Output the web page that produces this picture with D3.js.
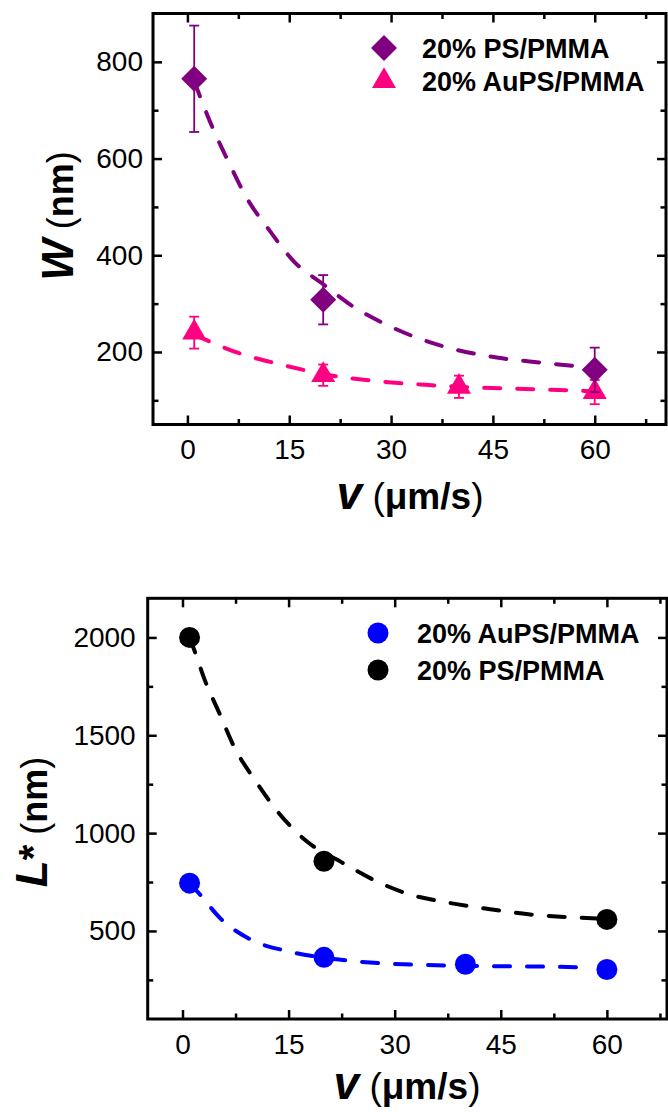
<!DOCTYPE html>
<html>
<head>
<meta charset="utf-8">
<script src="https://cdn.jsdelivr.net/npm/d3@7"></script>
<style>
    body { margin: 0; background: #fff; }
    svg { display: block; font-family: "Liberation Sans", Arial, sans-serif; }
    .axis text { font-size: 28px; fill: #000; font-family: "Liberation Sans", Arial, sans-serif; }
    .axis line { stroke: #000; stroke-width: 2.5; }
    .axis .domain { display: none; }
    .fit { fill: none; stroke-width: 4; stroke-dasharray: 16, 17; stroke-linecap: round; }
    .legend text { font-size: 27px; font-weight: bold; }
</style>
</head>
<body>
<svg id="chart" width="668" height="1112"></svg>
<script>
// ---- top panel: W (nm) vs v (um/s) ----
var speedPS = [1, 20, 60];
var widthPS = [765, 308, 163];
var widthPSErr = [110, 51, 46];

var speedAuPS = [1, 20, 40, 60];
var widthAuPS = [240, 152, 128, 117];
var widthAuPSErr = [33, 22, 23, 25];

// dashed fit curves
var fitSpeedWPS = [1, 3.7, 6.2, 8.8, 11.9, 15.7, 20.1, 24.4, 28.8, 33.9, 39.5, 45.8, 52.1, 57];
var fitWidthPS = [760, 664, 589, 517, 455, 387, 339, 294, 260, 229, 205, 188, 178, 171];
var fitSpeedWAuPS = [1, 7.5, 13.8, 20.1, 27.6, 35.1, 43.3, 50.8, 59.6];
var fitWidthAuPS = [236, 198, 174, 154, 140, 132, 126, 123, 119];

// ---- bottom panel: L* (nm) vs v (um/s) ----
var lengthAuPS = [744, 365, 330, 303];
var lengthPS = [2000, 856, 559];

var fitSpeedLPS = [1, 1.6, 3.1, 5.2, 7.3, 10.3, 13.4, 17.6, 22.4, 27.2, 32, 37.5, 43.5, 48.9, 54.3, 58.6];
var fitLengthPS = [2000, 1942, 1787, 1614, 1441, 1268, 1112, 957, 853, 758, 688, 645, 611, 585, 571, 564];
var fitSpeedLAuPS = [1, 2.2, 5.5, 9.7, 15.2, 21.8, 28.4, 34.4, 43.5, 52.5, 58];
var fitLengthAuPS = [744, 697, 559, 455, 394, 355, 334, 326, 320, 317, 313];

// ticks
var xTicks = [0, 15, 30, 45, 60];
var xMinorTicks = [7.5, 22.5, 37.5, 52.5, 67.5];
var wTicks = [200, 400, 600, 800];
var wMinorTicks = [100, 300, 500, 700];
var lTicks = [500, 1000, 1500, 2000];
var lMinorTicks = [250, 750, 1250, 1750];

var purple = "#800080", pink = "#ff0080", blue = "#0000ff", black = "#000000";

var svg = d3.select("#chart");

// Builds one framed panel, returns scales and inner group
function makePanel(box, xDomain, yDomain, yTicks, yMinor, yPad) {
    var width = box.right - box.left,
        height = box.bottom - box.top;
    var g = svg.append("g").attr("transform", "translate(" + box.left + "," + box.top + ")");
    var x = d3.scaleLinear().domain(xDomain).range([0, width]);
    var y = d3.scaleLinear().domain(yDomain).range([height, 0]);

    // bottom axis with labels
    g.append("g").attr("class", "axis")
        .attr("transform", "translate(0," + height + ")")
        .call(d3.axisBottom(x).tickValues(xTicks).tickFormat(d3.format("d"))
            .tickSizeInner(-9).tickSizeOuter(0).tickPadding(15));
    g.append("g").attr("class", "axis")
        .attr("transform", "translate(0," + height + ")")
        .call(d3.axisBottom(x).tickValues(xMinorTicks).tickFormat("").tickSizeInner(-5.5).tickSizeOuter(0));
    // top axis, ticks only
    g.append("g").attr("class", "axis")
        .call(d3.axisTop(x).tickValues(xTicks).tickFormat("").tickSizeInner(-9).tickSizeOuter(0));
    g.append("g").attr("class", "axis")
        .call(d3.axisTop(x).tickValues(xMinorTicks).tickFormat("").tickSizeInner(-5.5).tickSizeOuter(0));
    // left axis with labels
    g.append("g").attr("class", "axis")
        .call(d3.axisLeft(y).tickValues(yTicks).tickFormat(d3.format("d"))
            .tickSizeInner(-9).tickSizeOuter(0).tickPadding(yPad));
    g.append("g").attr("class", "axis")
        .call(d3.axisLeft(y).tickValues(yMinor).tickFormat("").tickSizeInner(-5.5).tickSizeOuter(0));
    // right axis, ticks only
    g.append("g").attr("class", "axis")
        .attr("transform", "translate(" + width + ",0)")
        .call(d3.axisRight(y).tickValues(yTicks).tickFormat("").tickSizeInner(-9).tickSizeOuter(0));
    g.append("g").attr("class", "axis")
        .attr("transform", "translate(" + width + ",0)")
        .call(d3.axisRight(y).tickValues(yMinor).tickFormat("").tickSizeInner(-5.5).tickSizeOuter(0));

    // frame
    g.append("rect")
        .attr("width", width)
        .attr("height", height)
        .attr("fill", "none")
        .attr("stroke", "#000")
        .attr("stroke-width", 3);

    return { g: g, x: x, y: y };
}

function drawFit(p, xs, ys, color) {
    var pts = xs.map(function(v, i) { return [v, ys[i]]; });
    var line = d3.line()
        .x(function(d) { return p.x(d[0]); })
        .y(function(d) { return p.y(d[1]); })
        .curve(d3.curveMonotoneX);
    p.g.append("path").datum(pts).attr("class", "fit").attr("stroke", color).attr("d", line);
}

function drawErrors(p, xs, ys, errs, color) {
    var data = xs.map(function(v, i) { return { v: v, w: ys[i], e: errs[i] }; });
    var eg = p.g.append("g").attr("stroke", color).attr("stroke-width", 1.8);
    eg.selectAll("line.bar").data(data).enter().append("line")
        .attr("x1", function(d) { return p.x(d.v); })
        .attr("x2", function(d) { return p.x(d.v); })
        .attr("y1", function(d) { return p.y(d.w - d.e); })
        .attr("y2", function(d) { return p.y(d.w + d.e); });
    [-1, 1].forEach(function(s) {
        eg.selectAll("line.cap" + s).data(data).enter().append("line")
            .attr("x1", function(d) { return p.x(d.v) - 5; })
            .attr("x2", function(d) { return p.x(d.v) + 5; })
            .attr("y1", function(d) { return p.y(d.w + s * d.e); })
            .attr("y2", function(d) { return p.y(d.w + s * d.e); });
    });
}

function drawSymbols(p, xs, ys, symbolPath, color, rotate) {
    p.g.append("g").selectAll("path").data(xs).enter().append("path")
        .attr("d", symbolPath)
        .attr("fill", color)
        .attr("transform", function(v, i) {
            return "translate(" + p.x(v) + "," + p.y(ys[i]) + ")" + (rotate ? " rotate(" + rotate + ")" : "");
        });
}

var diamond = d3.symbol(d3.symbolSquare, 338)();
var triangle = d3.symbol(d3.symbolTriangle, 250)();
var circle = d3.symbol(d3.symbolCircle, Math.PI * 110)();

// x axis title: v (um/s)
function xTitle(cx, baseline) {
    var t = svg.append("text").attr("x", cx).attr("y", baseline).attr("text-anchor", "middle");
    t.append("tspan").attr("font-size", 46).attr("font-weight", "bold").attr("font-style", "italic").text("v");
    t.append("tspan").attr("font-size", 37).text(" (");
    t.append("tspan").attr("font-size", 37).attr("font-weight", "bold").text("\u03bcm/s");
    t.append("tspan").attr("font-size", 37).text(")");
}

// y axis title: italic symbol followed by (nm)
function yTitle(tx, ty, symbol, star) {
    var t = svg.append("text").attr("text-anchor", "middle")
        .attr("transform", "translate(" + tx + "," + ty + ") rotate(-90)");
    t.append("tspan").attr("font-size", 44).attr("font-weight", "bold").attr("font-style", "italic").text(symbol);
    if (star) t.append("tspan").attr("font-size", 40).attr("font-weight", "bold").text("*");
    t.append("tspan").attr("font-size", 36).text(" (");
    t.append("tspan").attr("font-size", 36).attr("font-weight", "bold").text("nm");
    t.append("tspan").attr("font-size", 36).text(")");
}

// ===== top panel =====
var topPanel = makePanel({ left: 153, right: 666, top: 13.5, bottom: 424.5 },
    [-5.07, 70.5], [50, 900], wTicks, wMinorTicks, 10);

drawFit(topPanel, fitSpeedWAuPS, fitWidthAuPS, pink);
drawFit(topPanel, fitSpeedWPS, fitWidthPS, purple);
drawErrors(topPanel, speedAuPS, widthAuPS, widthAuPSErr, pink);
drawSymbols(topPanel, speedAuPS, widthAuPS, triangle, pink);
drawErrors(topPanel, speedPS, widthPS, widthPSErr, purple);
drawSymbols(topPanel, speedPS, widthPS, diamond, purple, 45);

var legTop = svg.append("g").attr("class", "legend");
legTop.append("path").attr("d", diamond).attr("fill", purple).attr("transform", "translate(384,48) rotate(45)");
legTop.append("text").attr("x", 422).attr("y", 58).text("20% PS/PMMA");
legTop.append("path").attr("d", triangle).attr("fill", pink).attr("transform", "translate(384,81)");
legTop.append("text").attr("x", 422).attr("y", 91).text("20% AuPS/PMMA");

yTitle(73, 216, "W", false);
xTitle(410, 509);

// ===== bottom panel =====
var bottomPanel = makePanel({ left: 147.7, right: 667, top: 598.3, bottom: 1019 },
    [-4.92, 68.5], [50, 2200], lTicks, lMinorTicks, 12);

drawFit(bottomPanel, fitSpeedLPS, fitLengthPS, black);
drawFit(bottomPanel, fitSpeedLAuPS, fitLengthAuPS, blue);
drawSymbols(bottomPanel, speedAuPS, lengthAuPS, circle, blue);
drawSymbols(bottomPanel, speedPS, lengthPS, circle, black);

var legBot = svg.append("g").attr("class", "legend");
legBot.append("path").attr("d", circle).attr("fill", blue).attr("transform", "translate(378,633)");
legBot.append("text").attr("x", 417).attr("y", 643).text("20% AuPS/PMMA");
legBot.append("path").attr("d", circle).attr("fill", black).attr("transform", "translate(378,670)");
legBot.append("text").attr("x", 417).attr("y", 680).text("20% PS/PMMA");

yTitle(47, 822, "L", true);
xTitle(407, 1099);
</script>
</body>
</html>
